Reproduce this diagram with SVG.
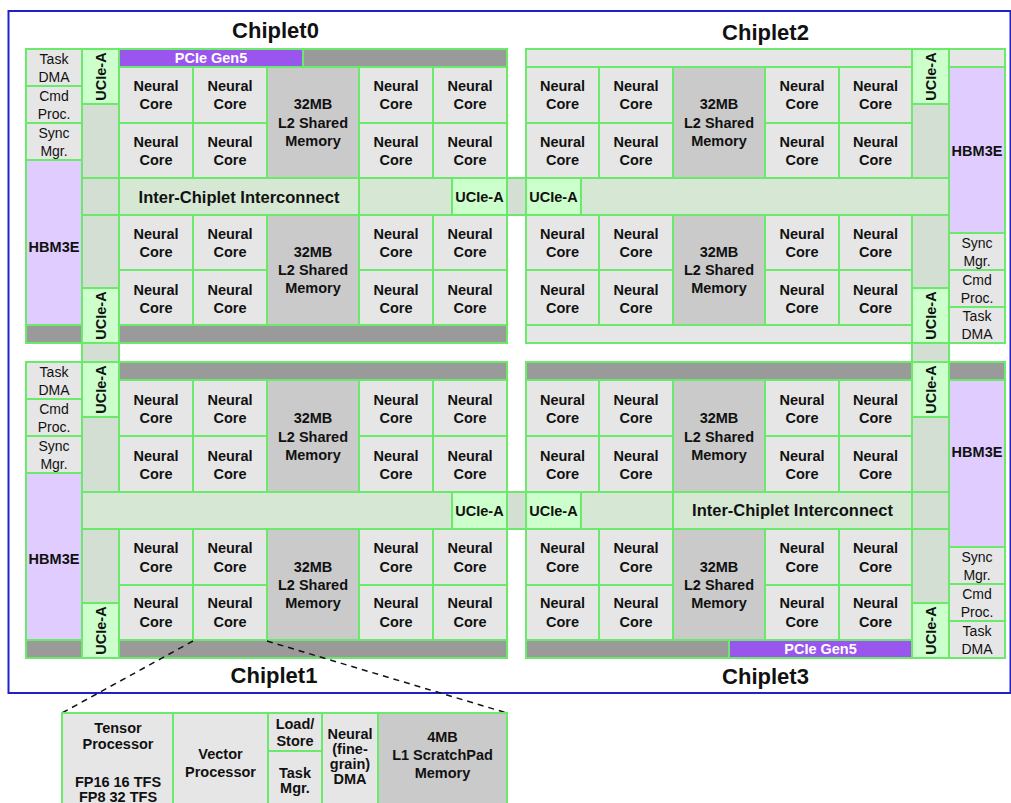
<svg xmlns="http://www.w3.org/2000/svg" width="1011" height="803" viewBox="0 0 1011 803">
<style>
rect{stroke:#6be96b;stroke-width:2}
.nc{fill:#e6e6e6}
.mem{fill:#cacaca}
.dk{fill:#9a9a9a}
.lg{fill:#e6e6e6}
.uc{fill:#ccffcc}
.ic{fill:#d6e8d4}
.gc{fill:#d4dfd4}
.hbm{fill:#e0ccff}
.pcie{fill:#9955ee}
text{font-family:"Liberation Sans",Arial,sans-serif;font-size:14.5px;font-weight:bold;text-anchor:middle;fill:#111}
.r{font-weight:normal;font-size:14px}
.ti{font-size:22px}
.ict{font-size:16.5px}
.w{fill:#fff}
.d{font-size:14.5px}
</style>
<rect x="8.5" y="11" width="1002" height="682" fill="#fff" style="stroke:#2020cc;stroke-width:2"/>

<g id="titles">
<text class="ti" x="275.5" y="37.5">Chiplet0</text>
<text class="ti" x="765.5" y="39.5">Chiplet2</text>
<text class="ti" x="274" y="683">Chiplet1</text>
<text class="ti" x="765.5" y="684">Chiplet3</text>
</g>

<!-- Chiplet0 -->
<g id="c0-task"><rect class="nc" x="26" y="49" width="56" height="37"/><text class="r" x="54" y="63.5">Task</text><text class="r" x="54" y="81.5">DMA</text></g>
<g id="c0-cmd"><rect class="nc" x="26" y="86" width="56" height="37"/><text class="r" x="54" y="100.5">Cmd</text><text class="r" x="54" y="118.5">Proc.</text></g>
<g id="c0-sync"><rect class="nc" x="26" y="123" width="56" height="37"/><text class="r" x="54" y="137.5">Sync</text><text class="r" x="54" y="155.5">Mgr.</text></g>
<g id="c0-hbm"><rect class="hbm" x="26" y="160" width="56" height="165"/><text x="54" y="251.5">HBM3E</text></g>
<g id="c0-lbar"><rect class="dk" x="26" y="325" width="56" height="18"/></g>
<g id="c0-ucie1"><rect class="uc" x="82" y="49" width="37" height="55"/><text x="105.5" y="76.5" transform="rotate(-90 105.5 76.5)">UCIe-A</text></g>
<g id="c0-col1"><rect class="gc" x="82" y="104" width="37" height="74"/></g>
<g id="c0-col2"><rect class="gc" x="82" y="178" width="37" height="37"/></g>
<g id="c0-col3"><rect class="gc" x="82" y="215" width="37" height="73"/></g>
<g id="c0-ucie2"><rect class="uc" x="82" y="288" width="37" height="55"/><text x="105.5" y="315.5" transform="rotate(-90 105.5 315.5)">UCIe-A</text></g>
<g id="c0-pcie"><rect class="pcie" x="119" y="49" width="184" height="18"/><text class="w" x="211" y="63">PCIe Gen5</text></g>
<g id="c0-tbar"><rect class="dk" x="303" y="49" width="204" height="18"/></g>
<g id="c0-nc1"><rect class="nc" x="119" y="67" width="74" height="56"/><text x="156" y="91">Neural</text><text x="156" y="109">Core</text></g>
<g id="c0-nc2"><rect class="nc" x="193" y="67" width="74" height="56"/><text x="230" y="91">Neural</text><text x="230" y="109">Core</text></g>
<g id="c0-nc3"><rect class="nc" x="359" y="67" width="74" height="56"/><text x="396" y="91">Neural</text><text x="396" y="109">Core</text></g>
<g id="c0-nc4"><rect class="nc" x="433" y="67" width="74" height="56"/><text x="470" y="91">Neural</text><text x="470" y="109">Core</text></g>
<g id="c0-nc5"><rect class="nc" x="119" y="123" width="74" height="55"/><text x="156" y="146.5">Neural</text><text x="156" y="164.5">Core</text></g>
<g id="c0-nc6"><rect class="nc" x="193" y="123" width="74" height="55"/><text x="230" y="146.5">Neural</text><text x="230" y="164.5">Core</text></g>
<g id="c0-nc7"><rect class="nc" x="359" y="123" width="74" height="55"/><text x="396" y="146.5">Neural</text><text x="396" y="164.5">Core</text></g>
<g id="c0-nc8"><rect class="nc" x="433" y="123" width="74" height="55"/><text x="470" y="146.5">Neural</text><text x="470" y="164.5">Core</text></g>
<g id="c0-mem1"><rect class="mem" x="267" y="67" width="92" height="111"/><text x="313" y="109">32MB</text><text x="313" y="127.5">L2 Shared</text><text x="313" y="145.5">Memory</text></g>
<g id="c0-ic"><rect class="ic" x="119" y="178" width="240" height="37"/><text class="ict" x="239" y="202.5">Inter-Chiplet Interconnect</text></g>
<g id="c0-icb"><rect class="ic" x="359" y="178" width="93" height="37"/></g>
<g id="c0-ucie3"><rect class="uc" x="452" y="178" width="55" height="37"/><text x="479.5" y="201.5">UCIe-A</text></g>
<g id="c0-nc9"><rect class="nc" x="119" y="215" width="74" height="55"/><text x="156" y="239">Neural</text><text x="156" y="257">Core</text></g>
<g id="c0-nc10"><rect class="nc" x="193" y="215" width="74" height="55"/><text x="230" y="239">Neural</text><text x="230" y="257">Core</text></g>
<g id="c0-nc11"><rect class="nc" x="359" y="215" width="74" height="55"/><text x="396" y="239">Neural</text><text x="396" y="257">Core</text></g>
<g id="c0-nc12"><rect class="nc" x="433" y="215" width="74" height="55"/><text x="470" y="239">Neural</text><text x="470" y="257">Core</text></g>
<g id="c0-nc13"><rect class="nc" x="119" y="270" width="74" height="55"/><text x="156" y="295">Neural</text><text x="156" y="313">Core</text></g>
<g id="c0-nc14"><rect class="nc" x="193" y="270" width="74" height="55"/><text x="230" y="295">Neural</text><text x="230" y="313">Core</text></g>
<g id="c0-nc15"><rect class="nc" x="359" y="270" width="74" height="55"/><text x="396" y="295">Neural</text><text x="396" y="313">Core</text></g>
<g id="c0-nc16"><rect class="nc" x="433" y="270" width="74" height="55"/><text x="470" y="295">Neural</text><text x="470" y="313">Core</text></g>
<g id="c0-mem2"><rect class="mem" x="267" y="215" width="92" height="110"/><text x="313" y="257">32MB</text><text x="313" y="275">L2 Shared</text><text x="313" y="293">Memory</text></g>
<g id="c0-bbar"><rect class="dk" x="119" y="325" width="388" height="18"/></g>

<!-- links between chiplets -->
<g id="gap-top"><rect class="gc" x="507" y="178" width="19" height="37"/></g>
<g id="gap-bot"><rect class="gc" x="507" y="492" width="19" height="37"/></g>
<g id="gap-left"><rect class="gc" x="82" y="343" width="37" height="19"/></g>
<g id="gap-right"><rect class="gc" x="912" y="343" width="37" height="19"/></g>

<!-- Chiplet1 -->
<g id="c1-task"><rect class="nc" x="26" y="362" width="56" height="37"/><text class="r" x="54" y="376.5">Task</text><text class="r" x="54" y="394.5">DMA</text></g>
<g id="c1-cmd"><rect class="nc" x="26" y="399" width="56" height="37"/><text class="r" x="54" y="413.5">Cmd</text><text class="r" x="54" y="431.5">Proc.</text></g>
<g id="c1-sync"><rect class="nc" x="26" y="436" width="56" height="37"/><text class="r" x="54" y="450.5">Sync</text><text class="r" x="54" y="468.5">Mgr.</text></g>
<g id="c1-hbm"><rect class="hbm" x="26" y="473" width="56" height="167"/><text x="54" y="564">HBM3E</text></g>
<g id="c1-lbar"><rect class="dk" x="26" y="640" width="56" height="18"/></g>
<g id="c1-ucie1"><rect class="uc" x="82" y="362" width="37" height="55"/><text x="105.5" y="389.5" transform="rotate(-90 105.5 389.5)">UCIe-A</text></g>
<g id="c1-col1"><rect class="gc" x="82" y="417" width="37" height="75"/></g>
<g id="c1-col3"><rect class="gc" x="82" y="529" width="37" height="74"/></g>
<g id="c1-ucie2"><rect class="uc" x="82" y="603" width="37" height="55"/><text x="105.5" y="630.5" transform="rotate(-90 105.5 630.5)">UCIe-A</text></g>
<g id="c1-tbar"><rect class="dk" x="119" y="362" width="388" height="18"/></g>
<g id="c1-nc1"><rect class="nc" x="119" y="380" width="74" height="56"/><text x="156" y="405">Neural</text><text x="156" y="423">Core</text></g>
<g id="c1-nc2"><rect class="nc" x="193" y="380" width="74" height="56"/><text x="230" y="405">Neural</text><text x="230" y="423">Core</text></g>
<g id="c1-nc3"><rect class="nc" x="359" y="380" width="74" height="56"/><text x="396" y="405">Neural</text><text x="396" y="423">Core</text></g>
<g id="c1-nc4"><rect class="nc" x="433" y="380" width="74" height="56"/><text x="470" y="405">Neural</text><text x="470" y="423">Core</text></g>
<g id="c1-nc5"><rect class="nc" x="119" y="436" width="74" height="56"/><text x="156" y="460.5">Neural</text><text x="156" y="478.5">Core</text></g>
<g id="c1-nc6"><rect class="nc" x="193" y="436" width="74" height="56"/><text x="230" y="460.5">Neural</text><text x="230" y="478.5">Core</text></g>
<g id="c1-nc7"><rect class="nc" x="359" y="436" width="74" height="56"/><text x="396" y="460.5">Neural</text><text x="396" y="478.5">Core</text></g>
<g id="c1-nc8"><rect class="nc" x="433" y="436" width="74" height="56"/><text x="470" y="460.5">Neural</text><text x="470" y="478.5">Core</text></g>
<g id="c1-mem1"><rect class="mem" x="267" y="380" width="92" height="112"/><text x="313" y="423">32MB</text><text x="313" y="441.5">L2 Shared</text><text x="313" y="459.5">Memory</text></g>
<g id="c1-icb"><rect class="ic" x="82" y="492" width="370" height="37"/></g>
<g id="c1-ucie3"><rect class="uc" x="452" y="492" width="55" height="37"/><text x="479.5" y="515.5">UCIe-A</text></g>
<g id="c1-nc9"><rect class="nc" x="119" y="529" width="74" height="56"/><text x="156" y="553">Neural</text><text x="156" y="571.5">Core</text></g>
<g id="c1-nc10"><rect class="nc" x="193" y="529" width="74" height="56"/><text x="230" y="553">Neural</text><text x="230" y="571.5">Core</text></g>
<g id="c1-nc11"><rect class="nc" x="359" y="529" width="74" height="56"/><text x="396" y="553">Neural</text><text x="396" y="571.5">Core</text></g>
<g id="c1-nc12"><rect class="nc" x="433" y="529" width="74" height="56"/><text x="470" y="553">Neural</text><text x="470" y="571.5">Core</text></g>
<g id="c1-nc13"><rect class="nc" x="119" y="585" width="74" height="55"/><text x="156" y="608">Neural</text><text x="156" y="626.5">Core</text></g>
<g id="c1-nc14"><rect class="nc" x="193" y="585" width="74" height="55"/><text x="230" y="608">Neural</text><text x="230" y="626.5">Core</text></g>
<g id="c1-nc15"><rect class="nc" x="359" y="585" width="74" height="55"/><text x="396" y="608">Neural</text><text x="396" y="626.5">Core</text></g>
<g id="c1-nc16"><rect class="nc" x="433" y="585" width="74" height="55"/><text x="470" y="608">Neural</text><text x="470" y="626.5">Core</text></g>
<g id="c1-mem2"><rect class="mem" x="267" y="529" width="92" height="111"/><text x="313" y="571.5">32MB</text><text x="313" y="589.5">L2 Shared</text><text x="313" y="607.5">Memory</text></g>
<g id="c1-bbar"><rect class="dk" x="119" y="640" width="388" height="18"/></g>

<!-- Chiplet2 -->
<g id="c2-tbar"><rect class="lg" x="526" y="49" width="386" height="18"/></g>
<g id="c2-nc1"><rect class="nc" x="526" y="67" width="73" height="56"/><text x="562.5" y="91">Neural</text><text x="562.5" y="109">Core</text></g>
<g id="c2-nc2"><rect class="nc" x="599" y="67" width="74" height="56"/><text x="636" y="91">Neural</text><text x="636" y="109">Core</text></g>
<g id="c2-nc3"><rect class="nc" x="765" y="67" width="74" height="56"/><text x="802" y="91">Neural</text><text x="802" y="109">Core</text></g>
<g id="c2-nc4"><rect class="nc" x="839" y="67" width="73" height="56"/><text x="875.5" y="91">Neural</text><text x="875.5" y="109">Core</text></g>
<g id="c2-nc5"><rect class="nc" x="526" y="123" width="73" height="55"/><text x="562.5" y="146.5">Neural</text><text x="562.5" y="164.5">Core</text></g>
<g id="c2-nc6"><rect class="nc" x="599" y="123" width="74" height="55"/><text x="636" y="146.5">Neural</text><text x="636" y="164.5">Core</text></g>
<g id="c2-nc7"><rect class="nc" x="765" y="123" width="74" height="55"/><text x="802" y="146.5">Neural</text><text x="802" y="164.5">Core</text></g>
<g id="c2-nc8"><rect class="nc" x="839" y="123" width="73" height="55"/><text x="875.5" y="146.5">Neural</text><text x="875.5" y="164.5">Core</text></g>
<g id="c2-mem1"><rect class="mem" x="673" y="67" width="92" height="111"/><text x="719" y="109">32MB</text><text x="719" y="127.5">L2 Shared</text><text x="719" y="145.5">Memory</text></g>
<g id="c2-ucie3"><rect class="uc" x="526" y="178" width="55" height="37"/><text x="553.5" y="201.5">UCIe-A</text></g>
<g id="c2-icb"><rect class="ic" x="581" y="178" width="368" height="37"/></g>
<g id="c2-nc9"><rect class="nc" x="526" y="215" width="73" height="55"/><text x="562.5" y="239">Neural</text><text x="562.5" y="257">Core</text></g>
<g id="c2-nc10"><rect class="nc" x="599" y="215" width="74" height="55"/><text x="636" y="239">Neural</text><text x="636" y="257">Core</text></g>
<g id="c2-nc11"><rect class="nc" x="765" y="215" width="74" height="55"/><text x="802" y="239">Neural</text><text x="802" y="257">Core</text></g>
<g id="c2-nc12"><rect class="nc" x="839" y="215" width="73" height="55"/><text x="875.5" y="239">Neural</text><text x="875.5" y="257">Core</text></g>
<g id="c2-nc13"><rect class="nc" x="526" y="270" width="73" height="55"/><text x="562.5" y="295">Neural</text><text x="562.5" y="313">Core</text></g>
<g id="c2-nc14"><rect class="nc" x="599" y="270" width="74" height="55"/><text x="636" y="295">Neural</text><text x="636" y="313">Core</text></g>
<g id="c2-nc15"><rect class="nc" x="765" y="270" width="74" height="55"/><text x="802" y="295">Neural</text><text x="802" y="313">Core</text></g>
<g id="c2-nc16"><rect class="nc" x="839" y="270" width="73" height="55"/><text x="875.5" y="295">Neural</text><text x="875.5" y="313">Core</text></g>
<g id="c2-mem2"><rect class="mem" x="673" y="215" width="92" height="110"/><text x="719" y="257">32MB</text><text x="719" y="275">L2 Shared</text><text x="719" y="293">Memory</text></g>
<g id="c2-bbar"><rect class="lg" x="526" y="325" width="386" height="18"/></g>
<g id="c2-ucie1"><rect class="uc" x="912" y="49" width="37" height="55"/><text x="935.5" y="76.5" transform="rotate(-90 935.5 76.5)">UCIe-A</text></g>
<g id="c2-col1"><rect class="gc" x="912" y="104" width="37" height="74"/></g>
<g id="c2-col3"><rect class="gc" x="912" y="215" width="37" height="73"/></g>
<g id="c2-ucie2"><rect class="uc" x="912" y="288" width="37" height="55"/><text x="935.5" y="315.5" transform="rotate(-90 935.5 315.5)">UCIe-A</text></g>
<g id="c2-rbar"><rect class="lg" x="949" y="49" width="56" height="18"/></g>
<g id="c2-hbm"><rect class="hbm" x="949" y="67" width="56" height="166"/><text x="977" y="155.5">HBM3E</text></g>
<g id="c2-sync"><rect class="nc" x="949" y="233" width="56" height="37"/><text class="r" x="977" y="247.5">Sync</text><text class="r" x="977" y="265.5">Mgr.</text></g>
<g id="c2-cmd"><rect class="nc" x="949" y="270" width="56" height="37"/><text class="r" x="977" y="284.5">Cmd</text><text class="r" x="977" y="302.5">Proc.</text></g>
<g id="c2-task"><rect class="nc" x="949" y="307" width="56" height="36"/><text class="r" x="977" y="321">Task</text><text class="r" x="977" y="339">DMA</text></g>

<!-- Chiplet3 -->
<g id="c3-tbar"><rect class="dk" x="526" y="362" width="386" height="18"/></g>
<g id="c3-nc1"><rect class="nc" x="526" y="380" width="73" height="56"/><text x="562.5" y="405">Neural</text><text x="562.5" y="423">Core</text></g>
<g id="c3-nc2"><rect class="nc" x="599" y="380" width="74" height="56"/><text x="636" y="405">Neural</text><text x="636" y="423">Core</text></g>
<g id="c3-nc3"><rect class="nc" x="765" y="380" width="74" height="56"/><text x="802" y="405">Neural</text><text x="802" y="423">Core</text></g>
<g id="c3-nc4"><rect class="nc" x="839" y="380" width="73" height="56"/><text x="875.5" y="405">Neural</text><text x="875.5" y="423">Core</text></g>
<g id="c3-nc5"><rect class="nc" x="526" y="436" width="73" height="56"/><text x="562.5" y="460.5">Neural</text><text x="562.5" y="478.5">Core</text></g>
<g id="c3-nc6"><rect class="nc" x="599" y="436" width="74" height="56"/><text x="636" y="460.5">Neural</text><text x="636" y="478.5">Core</text></g>
<g id="c3-nc7"><rect class="nc" x="765" y="436" width="74" height="56"/><text x="802" y="460.5">Neural</text><text x="802" y="478.5">Core</text></g>
<g id="c3-nc8"><rect class="nc" x="839" y="436" width="73" height="56"/><text x="875.5" y="460.5">Neural</text><text x="875.5" y="478.5">Core</text></g>
<g id="c3-mem1"><rect class="mem" x="673" y="380" width="92" height="112"/><text x="719" y="423">32MB</text><text x="719" y="441.5">L2 Shared</text><text x="719" y="459.5">Memory</text></g>
<g id="c3-ucie3"><rect class="uc" x="526" y="492" width="55" height="37"/><text x="553.5" y="515.5">UCIe-A</text></g>
<g id="c3-icb"><rect class="ic" x="581" y="492" width="92" height="37"/></g>
<g id="c3-ic"><rect class="ic" x="673" y="492" width="239" height="37"/><text class="ict" x="792.5" y="516">Inter-Chiplet Interconnect</text></g>
<g id="c3-col2"><rect class="gc" x="912" y="492" width="37" height="37"/></g>
<g id="c3-nc9"><rect class="nc" x="526" y="529" width="73" height="56"/><text x="562.5" y="553">Neural</text><text x="562.5" y="571.5">Core</text></g>
<g id="c3-nc10"><rect class="nc" x="599" y="529" width="74" height="56"/><text x="636" y="553">Neural</text><text x="636" y="571.5">Core</text></g>
<g id="c3-nc11"><rect class="nc" x="765" y="529" width="74" height="56"/><text x="802" y="553">Neural</text><text x="802" y="571.5">Core</text></g>
<g id="c3-nc12"><rect class="nc" x="839" y="529" width="73" height="56"/><text x="875.5" y="553">Neural</text><text x="875.5" y="571.5">Core</text></g>
<g id="c3-nc13"><rect class="nc" x="526" y="585" width="73" height="55"/><text x="562.5" y="608">Neural</text><text x="562.5" y="626.5">Core</text></g>
<g id="c3-nc14"><rect class="nc" x="599" y="585" width="74" height="55"/><text x="636" y="608">Neural</text><text x="636" y="626.5">Core</text></g>
<g id="c3-nc15"><rect class="nc" x="765" y="585" width="74" height="55"/><text x="802" y="608">Neural</text><text x="802" y="626.5">Core</text></g>
<g id="c3-nc16"><rect class="nc" x="839" y="585" width="73" height="55"/><text x="875.5" y="608">Neural</text><text x="875.5" y="626.5">Core</text></g>
<g id="c3-mem2"><rect class="mem" x="673" y="529" width="92" height="111"/><text x="719" y="571.5">32MB</text><text x="719" y="589.5">L2 Shared</text><text x="719" y="607.5">Memory</text></g>
<g id="c3-bbar"><rect class="dk" x="526" y="640" width="203" height="18"/></g>
<g id="c3-pcie"><rect class="pcie" x="729" y="640" width="183" height="18"/><text class="w" x="820.5" y="654">PCIe Gen5</text></g>
<g id="c3-ucie1"><rect class="uc" x="912" y="362" width="37" height="55"/><text x="935.5" y="389.5" transform="rotate(-90 935.5 389.5)">UCIe-A</text></g>
<g id="c3-col1"><rect class="gc" x="912" y="417" width="37" height="75"/></g>
<g id="c3-col3"><rect class="gc" x="912" y="529" width="37" height="74"/></g>
<g id="c3-ucie2"><rect class="uc" x="912" y="603" width="37" height="55"/><text x="935.5" y="630.5" transform="rotate(-90 935.5 630.5)">UCIe-A</text></g>
<g id="c3-rbar"><rect class="dk" x="949" y="362" width="56" height="18"/></g>
<g id="c3-hbm"><rect class="hbm" x="949" y="380" width="56" height="167"/><text x="977" y="457">HBM3E</text></g>
<g id="c3-sync"><rect class="nc" x="949" y="547" width="56" height="37"/><text class="r" x="977" y="561.5">Sync</text><text class="r" x="977" y="579.5">Mgr.</text></g>
<g id="c3-cmd"><rect class="nc" x="949" y="584" width="56" height="37"/><text class="r" x="977" y="598.5">Cmd</text><text class="r" x="977" y="616.5">Proc.</text></g>
<g id="c3-task"><rect class="nc" x="949" y="621" width="56" height="37"/><text class="r" x="977" y="635.5">Task</text><text class="r" x="977" y="653.5">DMA</text></g>

<!-- connectors -->
<g id="connectors" fill="none" stroke="#111" stroke-width="1.5" stroke-dasharray="6 5">
<line x1="193" y1="641" x2="62" y2="713"/>
<line x1="267" y1="641" x2="507" y2="713"/>
</g>

<!-- Neural core detail -->
<g id="d-tensor"><rect class="nc" x="62" y="713" width="111" height="97"/><text class="d" x="118" y="733">Tensor</text><text class="d" x="118" y="748.5">Processor</text><text class="d" x="118" y="786.5">FP16 16 TFS</text><text class="d" x="118" y="801.5">FP8 32 TFS</text></g>
<g id="d-vector"><rect class="nc" x="173" y="713" width="95" height="97"/><text class="d" x="220.5" y="758.5">Vector</text><text class="d" x="220.5" y="777">Processor</text></g>
<g id="d-ls"><rect class="nc" x="268" y="713" width="54" height="38"/><text class="d" x="295" y="728.5">Load/</text><text class="d" x="295" y="746">Store</text></g>
<g id="d-tm"><rect class="nc" x="268" y="751" width="54" height="59"/><text class="d" x="295" y="777.5">Task</text><text class="d" x="295" y="793">Mgr.</text></g>
<g id="d-dma"><rect class="nc" x="322" y="713" width="56" height="97"/><text class="d" x="350" y="738.5">Neural</text><text class="d" x="350" y="754">(fine-</text><text class="d" x="350" y="769">grain)</text><text class="d" x="350" y="783.5">DMA</text></g>
<g id="d-l1"><rect class="mem" x="378" y="713" width="129" height="97"/><text class="d" x="442.5" y="742">4MB</text><text class="d" x="442.5" y="760">L1 ScratchPad</text><text class="d" x="442.5" y="777.5">Memory</text></g>
</svg>
